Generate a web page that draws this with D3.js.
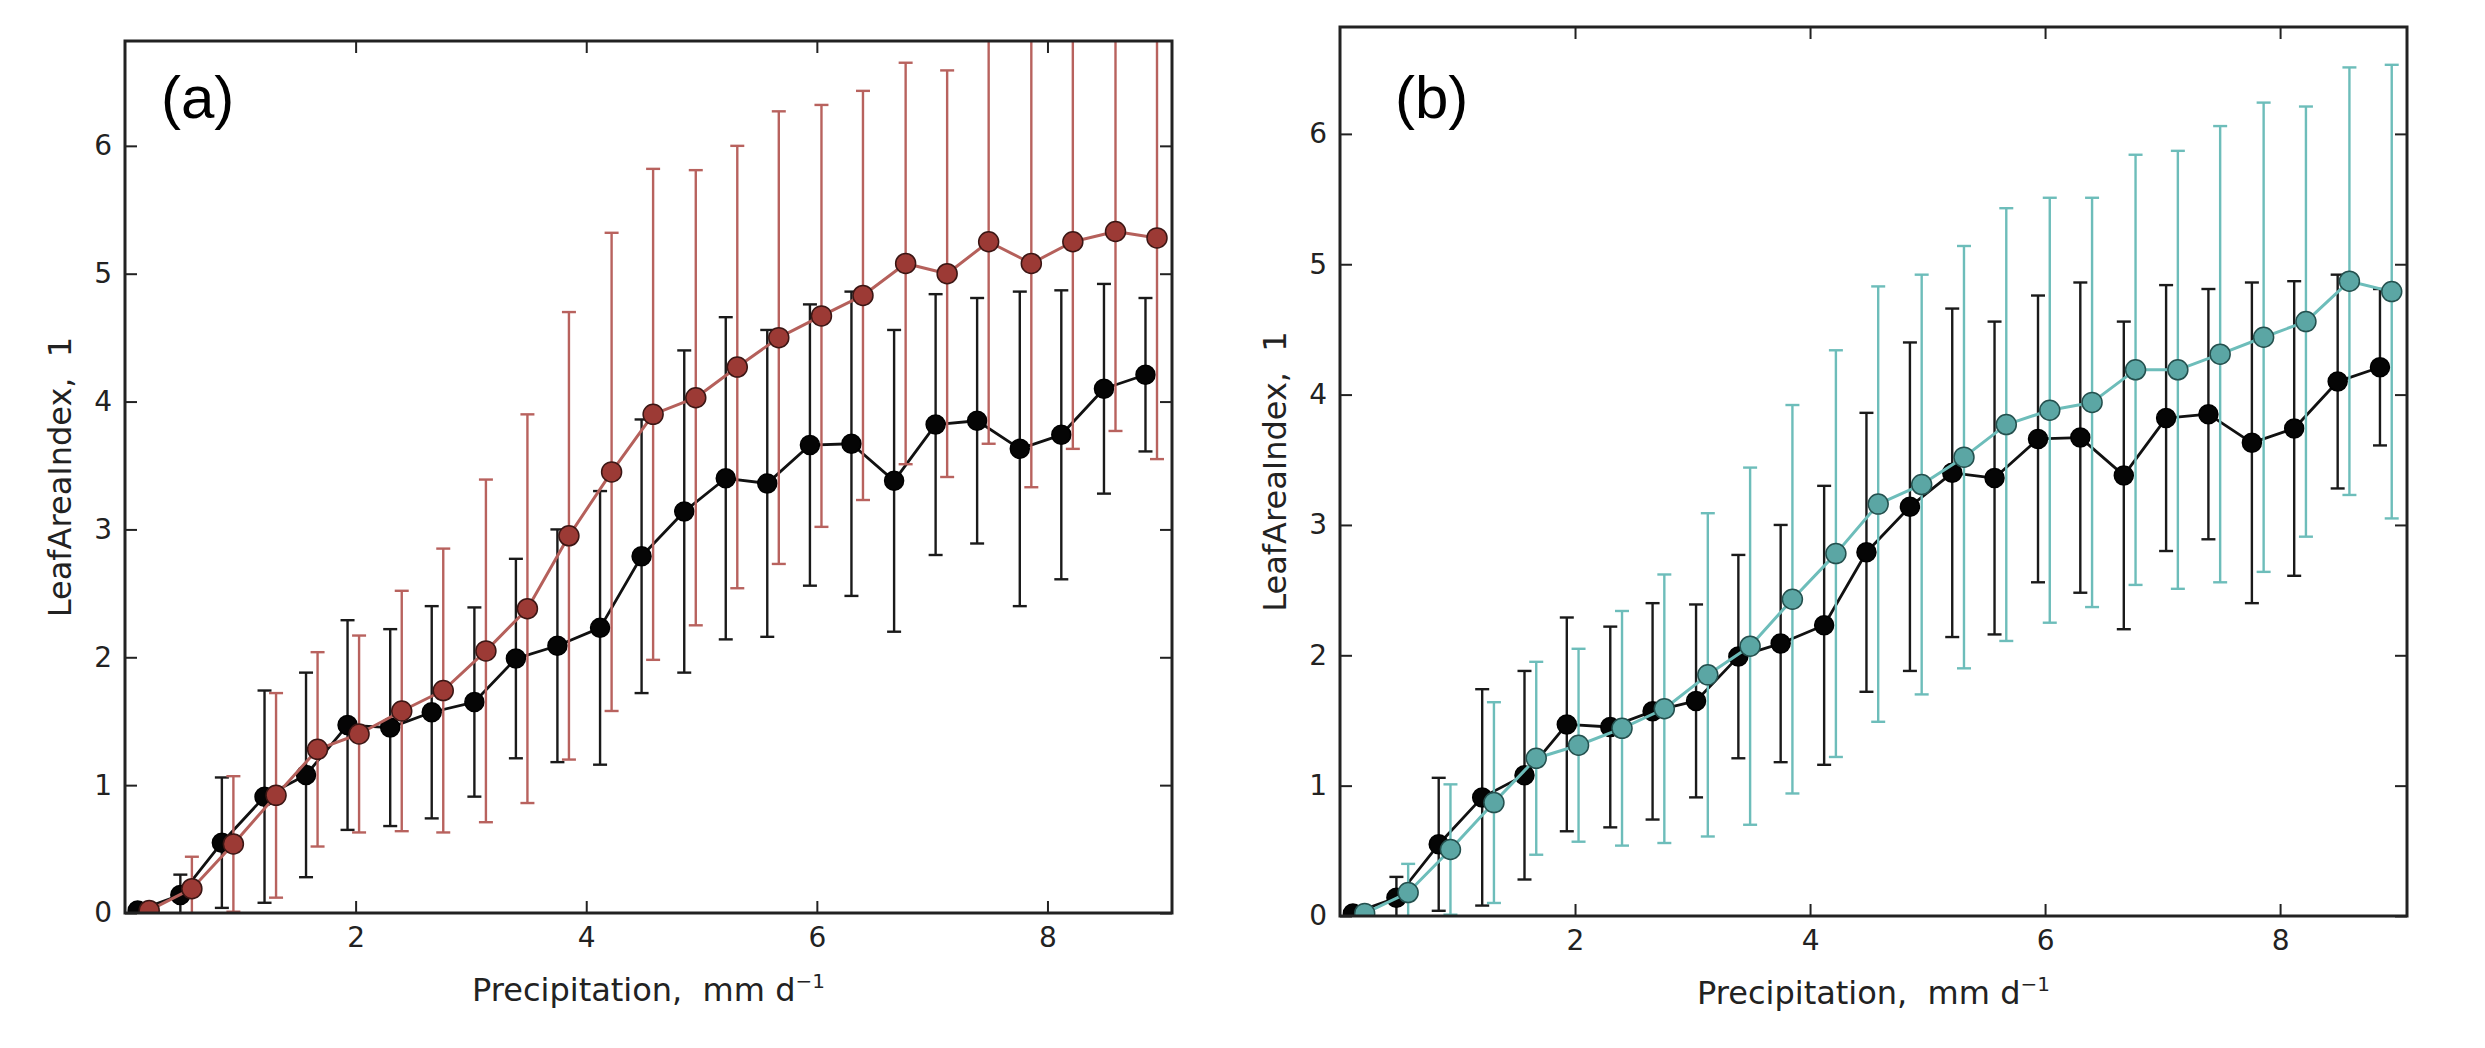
<!DOCTYPE html>
<html>
<head>
<meta charset="utf-8">
<script src="https://cdn.jsdelivr.net/npm/d3@7/dist/d3.min.js"></script>
<style>
  html, body { margin: 0; padding: 0; background: #ffffff; }
  svg { display: block; }
  text { white-space: pre; }
</style>
</head>
<body>
<svg id="chart" width="2485" height="1048"></svg>
<script>
// ---------------- DATA ----------------
// Precipitation bin positions (observed series drawn slightly left, model series slightly right)
const xObs   = [0.11, 0.48, 0.84, 1.21, 1.57, 1.93, 2.30, 2.66, 3.03, 3.39, 3.75, 4.12, 4.48, 4.85, 5.21, 5.57, 5.94, 6.30, 6.67, 7.03, 7.39, 7.76, 8.12, 8.49, 8.85];
const xModel = [0.21, 0.58, 0.94, 1.31, 1.67, 2.03, 2.40, 2.76, 3.13, 3.49, 3.85, 4.22, 4.58, 4.95, 5.31, 5.67, 6.04, 6.40, 6.77, 7.13, 7.49, 7.86, 8.22, 8.59, 8.95];

// Observed (black) LeafAreaIndex mean and spread (same in both panels)
const obsLAI = [0.02, 0.14, 0.55, 0.91, 1.08, 1.47, 1.45, 1.57, 1.65, 1.99, 2.09, 2.23, 2.79, 3.14, 3.40, 3.36, 3.66, 3.67, 3.38, 3.82, 3.85, 3.63, 3.74, 4.10, 4.21];
const obsSD  = [0.03, 0.16, 0.51, 0.83, 0.80, 0.82, 0.77, 0.83, 0.74, 0.78, 0.91, 1.07, 1.07, 1.26, 1.26, 1.20, 1.10, 1.19, 1.18, 1.02, 0.96, 1.23, 1.13, 0.82, 0.60];

// Panel (a) model (red)
const redLAI = [0.02, 0.19, 0.54, 0.92, 1.28, 1.40, 1.58, 1.74, 2.05, 2.38, 2.95, 3.45, 3.90, 4.03, 4.27, 4.50, 4.67, 4.83, 5.08, 5.00, 5.25, 5.08, 5.25, 5.33, 5.28];
const redSD  = [0.02, 0.25, 0.53, 0.80, 0.76, 0.77, 0.94, 1.11, 1.34, 1.52, 1.75, 1.87, 1.92, 1.78, 1.73, 1.77, 1.65, 1.60, 1.57, 1.59, 1.58, 1.75, 1.62, 1.56, 1.73];

// Panel (b) model (teal)
const tealLAI = [0.02, 0.18, 0.51, 0.87, 1.21, 1.31, 1.44, 1.59, 1.85, 2.07, 2.43, 2.78, 3.16, 3.31, 3.52, 3.77, 3.88, 3.94, 4.19, 4.19, 4.31, 4.44, 4.56, 4.87, 4.79];
const tealSD  = [0.02, 0.22, 0.50, 0.77, 0.74, 0.74, 0.90, 1.03, 1.24, 1.37, 1.49, 1.56, 1.67, 1.61, 1.62, 1.66, 1.63, 1.57, 1.65, 1.68, 1.75, 1.80, 1.65, 1.64, 1.74];

const xTicks = [2, 4, 6, 8];
const yTicks = [0, 1, 2, 3, 4, 5, 6];
const xDomain = [0, 9.08];
const yDomain = [0, 6.82];
const xLabelMain = "Precipitation,  mm d";
const xLabelSup = "\u22121";
const yLabelText = "LeafAreaIndex,  1";
const panelLabels = ["(a)", "(b)"];

// ---------------- STYLES ----------------
const styles = {
  black: { line: "#111111", lineW: 2.8, err: "#1a1a1a", errW: 2.4, fill: "#050505", edge: "#000000", r: 9.5 },
  red:   { line: "#b5605b", lineW: 3,   err: "#b8625e", errW: 2.4, fill: "#9c3a35", edge: "#3b1614", r: 10 },
  teal:  { line: "#6dbdba", lineW: 3,   err: "#6dbdba", errW: 2.4, fill: "#5ba6a4", edge: "#24504e", r: 10 }
};

const panels = [
  { label: panelLabels[0], box: { l: 125, r: 1172, t: 41, b: 913 }, labelPos: [161, 118],
    series: [ { x: xObs, y: obsLAI, sd: obsSD, style: "black" }, { x: xModel, y: redLAI, sd: redSD, style: "red" } ] },
  { label: panelLabels[1], box: { l: 1340, r: 2407, t: 27, b: 916 }, labelPos: [1395, 118],
    series: [ { x: xObs, y: obsLAI, sd: obsSD, style: "black" }, { x: xModel, y: tealLAI, sd: tealSD, style: "teal" } ] }
];

const svg = d3.select("#chart");
svg.append("rect").attr("width", 2485).attr("height", 1048).attr("fill", "#ffffff");

const tickFont = "'DejaVu Sans', sans-serif";
const textColor = "#222222";

panels.forEach((p, pi) => {
  const { l, r, t, b } = p.box;
  const x = d3.scaleLinear().domain(xDomain).range([l, r]);
  const y = d3.scaleLinear().domain(yDomain).range([b, t]);

  const g = svg.append("g");
  const clipId = "clip" + pi;
  svg.append("clipPath").attr("id", clipId)
    .append("rect").attr("x", l).attr("y", t).attr("width", r - l).attr("height", b - t);

  const data = g.append("g").attr("clip-path", `url(#${clipId})`);

  p.series.forEach(s => {
    const st = styles[s.style];
    const pts = s.x.map((xv, i) => ({ x: xv, y: s.y[i], lo: s.y[i] - s.sd[i], hi: s.y[i] + s.sd[i] }));
    const sg = data.append("g");
    // error bars
    const eb = sg.append("g").attr("stroke", st.err).attr("stroke-width", st.errW).attr("fill", "none");
    eb.selectAll("line.v").data(pts).join("line").attr("class", "v")
      .attr("x1", d => x(d.x)).attr("x2", d => x(d.x))
      .attr("y1", d => y(d.lo)).attr("y2", d => y(d.hi));
    eb.selectAll("line.ct").data(pts).join("line").attr("class", "ct")
      .attr("x1", d => x(d.x) - 7).attr("x2", d => x(d.x) + 7)
      .attr("y1", d => y(d.hi)).attr("y2", d => y(d.hi));
    eb.selectAll("line.cb").data(pts).join("line").attr("class", "cb")
      .attr("x1", d => x(d.x) - 7).attr("x2", d => x(d.x) + 7)
      .attr("y1", d => y(d.lo)).attr("y2", d => y(d.lo));
    // line
    sg.append("path").datum(pts)
      .attr("fill", "none").attr("stroke", st.line).attr("stroke-width", st.lineW)
      .attr("stroke-linejoin", "round")
      .attr("d", d3.line().x(d => x(d.x)).y(d => y(d.y)));
    // markers
    sg.selectAll("circle").data(pts).join("circle")
      .attr("cx", d => x(d.x)).attr("cy", d => y(d.y)).attr("r", st.r)
      .attr("fill", st.fill).attr("stroke", st.edge).attr("stroke-width", 1.5);
  });

  // axes (ticks inward on all four sides)
  const axB = g.append("g").attr("transform", `translate(0,${b})`)
    .call(d3.axisBottom(x).tickValues(xTicks).tickSizeInner(-12).tickSizeOuter(0).tickPadding(14).tickFormat(d3.format("d")));
  const axT = g.append("g").attr("transform", `translate(0,${t})`)
    .call(d3.axisTop(x).tickValues(xTicks).tickSizeInner(-12).tickSizeOuter(0).tickFormat(""));
  const axL = g.append("g").attr("transform", `translate(${l},0)`)
    .call(d3.axisLeft(y).tickValues(yTicks).tickSizeInner(-12).tickSizeOuter(0).tickPadding(13).tickFormat(d3.format("d")));
  const axR = g.append("g").attr("transform", `translate(${r},0)`)
    .call(d3.axisRight(y).tickValues(yTicks).tickSizeInner(-12).tickSizeOuter(0).tickFormat(""));
  [axB, axT, axL, axR].forEach(a => {
    a.select(".domain").remove();
    a.selectAll(".tick line").attr("stroke", "#222").attr("stroke-width", 2);
    a.selectAll(".tick text").attr("fill", textColor).style("font-family", tickFont).style("font-size", "28px");
  });

  // frame
  g.append("rect").attr("x", l).attr("y", t).attr("width", r - l).attr("height", b - t)
    .attr("fill", "none").attr("stroke", "#222").attr("stroke-width", 3);

  // axis labels
  const xl = g.append("text")
    .attr("x", (l + r) / 2).attr("y", b + 88)
    .attr("text-anchor", "middle").attr("fill", textColor)
    .attr("xml:space", "preserve")
    .style("font-family", tickFont).style("font-size", "32px");
  xl.append("tspan").text(xLabelMain);
  xl.append("tspan").attr("dy", -13).style("font-size", "20px").text(xLabelSup);

  g.append("text")
    .attr("transform", `translate(${l - 54},${(t + b) / 2}) rotate(-90)`)
    .attr("text-anchor", "middle").attr("fill", textColor)
    .attr("xml:space", "preserve")
    .style("font-family", tickFont).style("font-size", "32px")
    .text(yLabelText);

  // panel label
  g.append("text")
    .attr("x", p.labelPos[0]).attr("y", p.labelPos[1])
    .attr("fill", "#000")
    .style("font-family", "'Liberation Sans', Arial, sans-serif").style("font-size", "60px")
    .text(p.label);
});
</script>
</body>
</html>
